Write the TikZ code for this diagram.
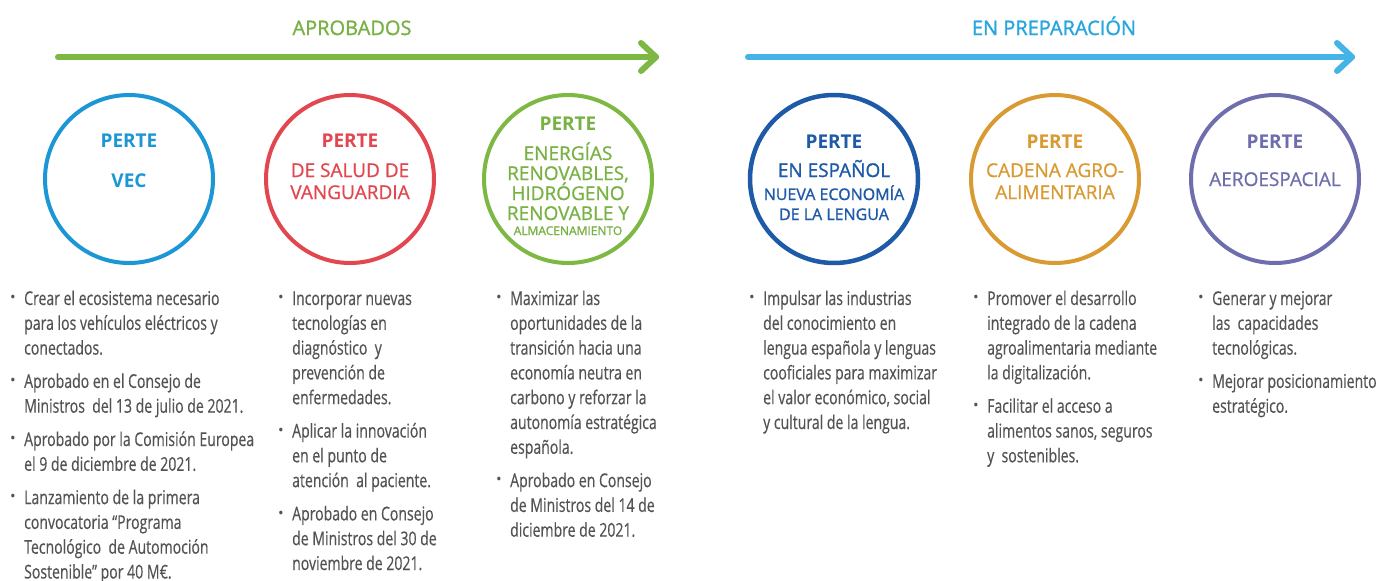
\documentclass[tikz,border=0pt]{standalone}
\usepackage{fontspec}
\setmainfont{Open Sans}
\newfontfamily\bodyfont[FakeStretch=0.74,FakeBold=0.4]{Open Sans}
\newfontfamily\headfont{Open Sans}
\newfontfamily\semifont[FakeBold=1.2]{Open Sans}
\newfontfamily\medfont[FakeBold=0.8]{Open Sans}
\usetikzlibrary{calc}
\definecolor{cgreen}{HTML}{7DB843}
\definecolor{cgreentxt}{HTML}{78B245}
\definecolor{clblue}{HTML}{45B3E6}
\definecolor{clbluetxt}{HTML}{27A5DD}
\definecolor{cvec}{HTML}{1C96D5}
\definecolor{cred}{HTML}{E2474F}
\definecolor{cdblue}{HTML}{1E5AA8}
\definecolor{corange}{HTML}{D99A32}
\definecolor{cpurple}{HTML}{6E6EAF}
\definecolor{cbody}{HTML}{525355}
\newcommand{\btxt}[1]{\parbox[t]{300pt}{\bodyfont\fontsize{19}{24.8}\selectfont\raggedright #1}}
\newcommand{\bitem}[4]{%
  \node[bdot] (#1d) at (#2-11,#3-6) {\textbullet};
  \node[btext] (#1) at (#2,#3) {\btxt{#4}};}
\begin{document}
\begin{tikzpicture}[x=1pt,y=-1pt,
  btext/.style={anchor=base west,inner sep=0pt,text=cbody},
  bdot/.style={inner sep=0pt,text=cbody,font=\headfont\fontsize{15}{15}\selectfont},
  ring/.style={circle,draw,line width=4pt,minimum size=168pt,inner sep=0pt},
  ctext/.style={anchor=base,inner sep=0pt,font=\medfont\fontsize{19}{19}\selectfont},
  cbold/.style={anchor=base,inner sep=0pt,font=\headfont\bfseries\fontsize{19}{19}\selectfont},
  csemi/.style={anchor=base,inner sep=0pt,font=\semifont\fontsize{19}{19}\selectfont},
  htext/.style={anchor=base,inner sep=0pt,font=\semifont\fontsize{20}{20}\selectfont},
  tl/.style={line width=6pt,line cap=round,line join=round}]
\useasboundingbox[fill=white] (0,0) rectangle (1379,581);

% headings and arrows
\node[htext,text=cgreentxt] (hA) at (352,35) {APROBADOS};
\node[htext,text=clbluetxt] (hB) at (1054,35) {EN PREPARACIÓN};
\coordinate (g0) at (58,57);
\coordinate (g1) at (656,57);
\coordinate (b0) at (748,57);
\coordinate (b1) at (1352,57);
\draw[tl,cgreen] (g0) -- (g1);
\draw[tl,cgreen] ($(g1)+(-15,-14)$) -- (g1) -- ($(g1)+(-15,14)$);
\draw[tl,clblue] (b0) -- (b1);
\draw[tl,clblue] ($(b1)+(-15,-14)$) -- (b1) -- ($(b1)+(-15,14)$);

% circles
\node[ring,draw=cvec] (c1) at (129,179) {};
\node[ring,draw=cred] (c2) at (350,179) {};
\node[ring,draw=cgreen] (c3) at (568,179) {};
\node[ring,draw=cdblue,line width=4.5pt] (c4) at (834,179) {};
\node[ring,draw=corange] (c5) at (1055,179) {};
\node[ring,draw=cpurple] (c6) at (1275,179) {};

% circle 1
\node[cbold,text=cvec] (t11) at (129,147) {PERTE};
\node[cbold,text=cvec] (t12) at (129,187) {VEC};
% circle 2
\node[cbold,text=cred] (t21) at (350,147) {PERTE};
\node[ctext,text=cred] (t22) at (350,177) {DE SALUD DE};
\node[ctext,text=cred] (t23) at (350,199) {VANGUARDIA};
% circle 3
\node[cbold,text=cgreentxt] (t31) at (568,130) {PERTE};
\node[ctext,text=cgreentxt] (t32) at (568,160) {ENERGÍAS};
\node[ctext,text=cgreentxt] (t33) at (568,180) {RENOVABLES,};
\node[ctext,text=cgreentxt] (t34) at (568,200) {HIDRÓGENO};
\node[ctext,text=cgreentxt] (t35) at (568,220) {RENOVABLE Y};
\node[anchor=base,inner sep=0pt,text=cgreentxt,font=\semifont\fontsize{12}{12}\selectfont] (t36) at (568,235) {ALMACENAMIENTO};
% circle 4
\node[cbold,text=cdblue] (t41) at (834,148) {PERTE};
\node[csemi,text=cdblue] (t42) at (834,177) {EN ESPAÑOL};
\node[anchor=base,inner sep=0pt,text=cdblue,font=\semifont\fontsize{16}{16}\selectfont] (t43) at (834,200) {NUEVA ECONOMÍA};
\node[anchor=base,inner sep=0pt,text=cdblue,font=\semifont\fontsize{16}{16}\selectfont] (t44) at (834,220) {DE LA LENGUA};
% circle 5
\node[cbold,text=corange] (t51) at (1055,148) {PERTE};
\node[ctext,text=corange] (t52) at (1055,177) {CADENA AGRO-};
\node[ctext,text=corange] (t53) at (1055,199) {ALIMENTARIA};
% circle 6
\node[cbold,text=cpurple] (t61) at (1275,148) {PERTE};
\node[ctext,text=cpurple] (t62) at (1275,186) {AEROESPACIAL};

% column 1
\bitem{a1}{24}{305}{Crear el ecosistema necesario\\para los vehículos eléctricos y\\conectados.}
\bitem{a2}{24}{387.9}{Aprobado en el Consejo de\\Ministros\ \ del 13 de julio de 2021.}
\bitem{a3}{24}{446}{Aprobado por la Comisión Europea\\el 9 de diciembre de 2021.}
\bitem{a4}{24}{504.1}{Lanzamiento de la primera\\convocatoria “Programa\\Tecnológico\ \ de Automoción\\Sostenible” por 40 M€.}
% column 2
\bitem{b1}{292}{305}{Incorporar nuevas\\tecnologías en\\diagnóstico\ \ y\\prevención de\\enfermedades.}
\bitem{b2}{292}{437.5}{Aplicar la innovación\\en el punto de\\atención\ \ al paciente.}
\bitem{b3}{292}{520.4}{Aprobado en Consejo\\de Ministros del 30 de\\noviembre de 2021.}
% column 3
\bitem{c1t}{510}{305}{Maximizar las\\oportunidades de la\\transición hacia una\\economía neutra en\\carbono y reforzar la\\autonomía estratégica\\española.}
\bitem{c2t}{510}{487.1}{Aprobado en Consejo\\de Ministros del 14 de\\diciembre de 2021.}
% column 4
\bitem{d1}{763}{305}{Impulsar las industrias\\del conocimiento en\\lengua española y lenguas\\cooficiales para maximizar\\el valor económico, social\\y cultural de la lengua.}
% column 5
\bitem{e1}{987}{305}{Promover el desarrollo\\integrado de la cadena\\agroalimentaria mediante\\la digitalización.}
\bitem{e2}{987}{412.7}{Facilitar el acceso a\\alimentos sanos, seguros\\y\ \ sostenibles.}
% column 6
\bitem{f1}{1212}{305}{Generar y mejorar\\las\ \ capacidades\\tecnológicas.}
\bitem{f2}{1212}{387.9}{Mejorar posicionamiento\\estratégico.}
\end{tikzpicture}
\end{document}
